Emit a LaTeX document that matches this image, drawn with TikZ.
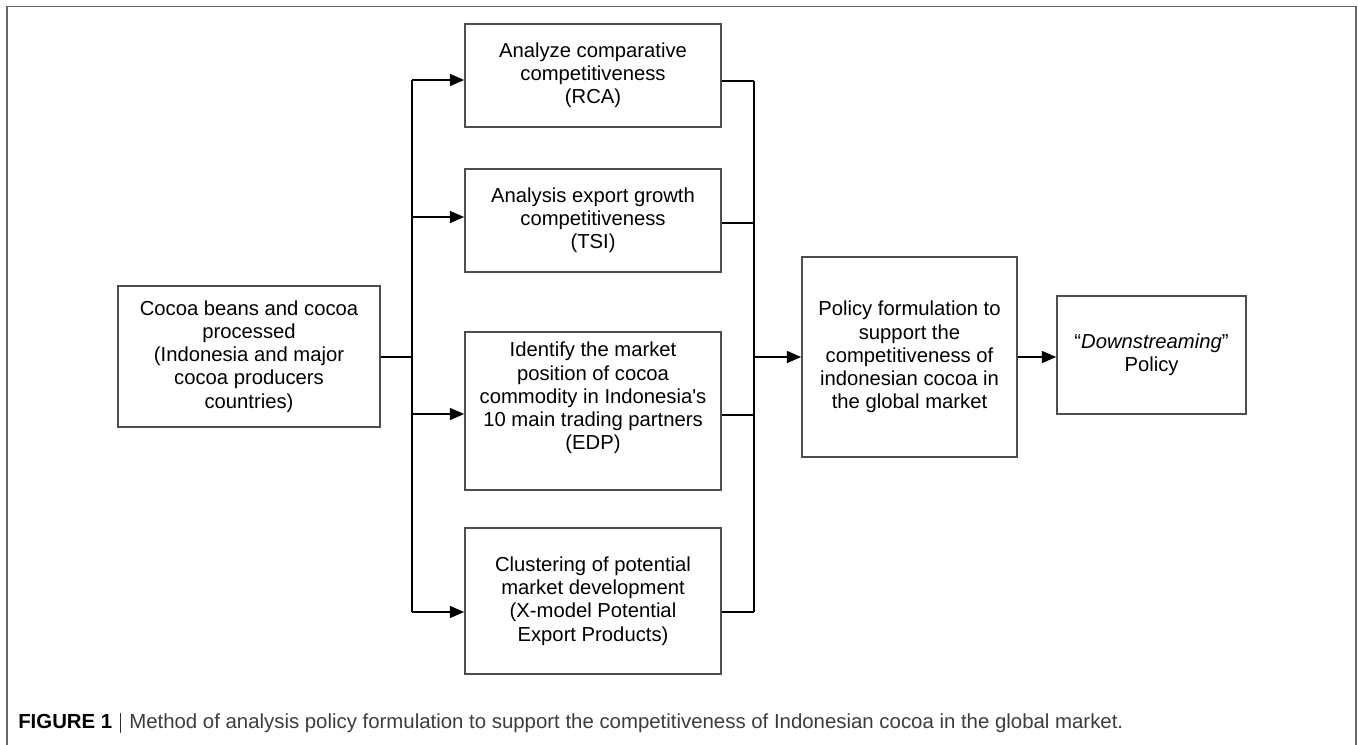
\documentclass[tikz,border=0pt]{standalone}
\usepackage{fontspec}
\setmainfont{Liberation Sans}
\usetikzlibrary{arrows.meta,calc}
\definecolor{framegray}{HTML}{666666}
\definecolor{boxgray}{HTML}{4D4D4D}
\definecolor{captgray}{HTML}{3C3C3C}
\begin{document}
\begin{tikzpicture}[x=0.025cm, y=-0.025cm,
		block/.style={rectangle, draw=boxgray, line width=1.1pt, inner sep=0pt, align=center, font=\fontsize{14.4}{16.5}\selectfont},
		link/.style={line width=1.2pt, black},
		flow/.style={link, -{Triangle[length=0.36cm, width=0.3cm]}}
		]
		\useasboundingbox (0,0) rectangle (1358,744);
		\draw[framegray, line width=1.4pt] (7,760) -- (7,6.5) -- (1356,6.5) -- (1356,760);
		
		\node[block, minimum width=6.55cm, minimum height=3.525cm] (src) at (249,356.5) {Cocoa beans and cocoa\\processed\\(Indonesia and major\\cocoa producers\\countries)};
		
		\node[block, minimum width=6.4cm, minimum height=2.575cm] (rca) at (593,75.5) {Analyze comparative\\competitiveness\\(RCA)};
		\node[block, minimum width=6.4cm, minimum height=2.575cm] (tsi) at (593,220.5) {Analysis export growth\\competitiveness\\(TSI)};
		\node[block, minimum width=6.4cm, minimum height=3.95cm, label={[align=center, yshift=0.325cm, font=\fontsize{14.4}{16.5}\selectfont]center:{Identify the market\\position of cocoa\\commodity in Indonesia\textquotesingle s\\10 main trading partners\\(EDP)}}] (edp) at (593,411) {};
		\node[block, minimum width=6.4cm, minimum height=3.65cm] (xmod) at (593,601) {Clustering of potential\\market development\\(X-model Potential\\Export Products)};
		
		\node[block, minimum width=5.375cm, minimum height=5cm] (policy) at (909.5,357) {Policy formulation to\\support the\\competitiveness of\\indonesian cocoa in\\the global market};
		\node[block, minimum width=4.725cm, minimum height=2.95cm] (down) at (1151.5,355) {``\textit{Downstreaming}''\\Policy};
		
		\coordinate (split) at (412,357);
		\coordinate (merge) at (754,357);
		
		\draw[link] (src.east |- split) -- (split);
		\foreach \b/\i/\o in {rca/4.5/5.5, tsi/-3.5/2.5, edp/3/4, xmod/11/11} {
			\coordinate (\b-in) at ($(\b.west)+(0,\i)$);
			\coordinate (\b-out) at ($(\b.east)+(0,\o)$);
			\draw[flow] (split |- \b-in) -- (\b-in);
			\draw[link] (\b-out) -- (merge |- \b-out);
		}
		\draw[link] (split |- rca-in) -- (split |- xmod-in);
		\draw[link] (merge |- rca-out) -- (merge |- xmod-out);
		
		\draw[flow] (merge) -- (policy.west |- merge);
		\draw[flow] (policy.east) -- (down.west |- policy.east);
		
		\node[anchor=west, inner sep=0pt, font=\fontsize{14.5}{16}\selectfont] (caption) at (18,723) {\textbf{FIGURE 1} $|$ \textcolor{captgray}{Method of analysis policy formulation to support the competitiveness of Indonesian cocoa in the global market.}};
		
	\end{tikzpicture}
\end{document}
